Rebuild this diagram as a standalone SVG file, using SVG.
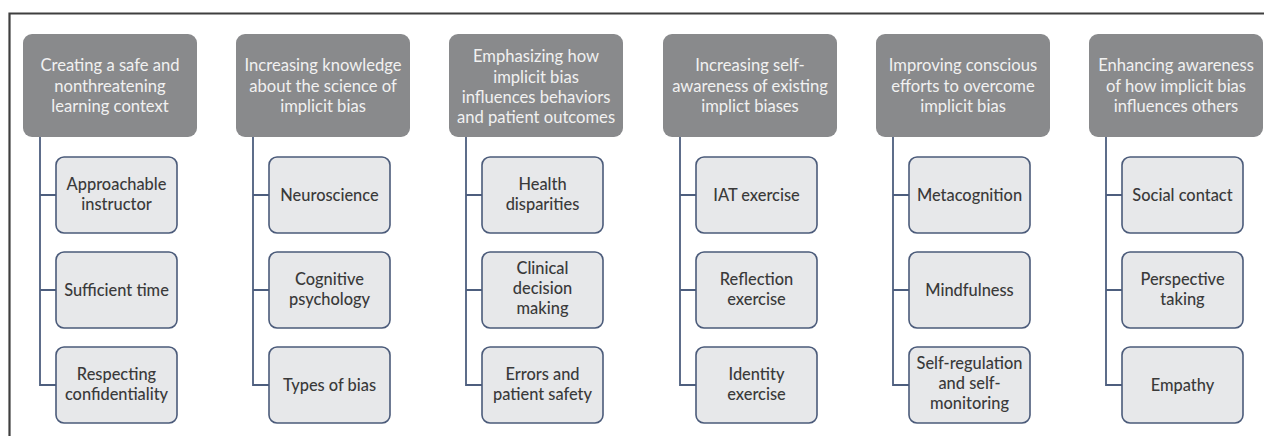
<svg xmlns="http://www.w3.org/2000/svg" width="1264" height="436" viewBox="0 0 1264 436">
  <style>
    .frame { fill: none; stroke: #3f3f3f; stroke-width: 2.2; }
    .head rect { fill: #898a8c; }
    .head text { fill: #f1f1f1; font-family: Lato, "Open Sans", sans-serif; font-size: 16.6px; text-anchor: middle; }
    .item rect { fill: #e7e8ea; stroke: #4b5b7a; stroke-width: 1.6; }
    .item text { fill: #3a3a3a; font-family: Lato, "Open Sans", sans-serif; font-size: 16.4px; font-weight: 500; text-anchor: middle; }
    .links path { fill: none; stroke: #4d5e7e; stroke-width: 1.8; }
  </style>
  <rect width="1264" height="436" fill="#fff"/>
  <path class="frame" d="M9.5 436 V13.5 H1264"/>

  <!-- connectors: vertical spine from each header, with a tick into every item -->
  <g class="links">
    <path d="M40 137 V385 H56 M40 195 H56 M40 290 H56"/>
    <path d="M253 137 V385 H269 M253 195 H269 M253 290 H269"/>
    <path d="M466 137 V385 H482 M466 195 H482 M466 290 H482"/>
    <path d="M680 137 V385 H696 M680 195 H696 M680 290 H696"/>
    <path d="M893 137 V385 H909 M893 195 H909 M893 290 H909"/>
    <path d="M1106 137 V385 H1122 M1106 195 H1122 M1106 290 H1122"/>
  </g>

  <!-- column 1 -->
  <g id="h1" class="head"><rect x="23" y="34" width="174" height="103" rx="9"/>
    <text x="110" y="71">Creating a safe and</text><text x="110" y="91.5">nonthreatening</text><text x="110" y="112">learning context</text></g>
  <g id="c1a" class="item"><rect x="56" y="157" width="121" height="76" rx="8"/>
    <text x="116.5" y="190">Approachable</text><text x="116.5" y="210">instructor</text></g>
  <g id="c1b" class="item"><rect x="56" y="252" width="121" height="76" rx="8"/>
    <text x="116.5" y="295.5">Sufficient time</text></g>
  <g id="c1c" class="item"><rect x="56" y="347" width="121" height="76" rx="8"/>
    <text x="116.5" y="380">Respecting</text><text x="116.5" y="400">confidentiality</text></g>

  <!-- column 2 -->
  <g id="h2" class="head"><rect x="236" y="34" width="174" height="103" rx="9"/>
    <text x="323" y="71">Increasing knowledge</text><text x="323" y="91.5">about the science of</text><text x="323" y="112">implicit bias</text></g>
  <g id="c2a" class="item"><rect x="269" y="157" width="121" height="76" rx="8"/>
    <text x="329.5" y="200.5">Neuroscience</text></g>
  <g id="c2b" class="item"><rect x="269" y="252" width="121" height="76" rx="8"/>
    <text x="329.5" y="285">Cognitive</text><text x="329.5" y="305">psychology</text></g>
  <g id="c2c" class="item"><rect x="269" y="347" width="121" height="76" rx="8"/>
    <text x="329.5" y="390.5">Types of bias</text></g>

  <!-- column 3 -->
  <g id="h3" class="head"><rect x="449" y="34" width="174" height="103" rx="9"/>
    <text x="536" y="62">Emphasizing how</text><text x="536" y="82.5">implicit bias</text><text x="536" y="102.5">influences behaviors</text><text x="536" y="122.5">and patient outcomes</text></g>
  <g id="c3a" class="item"><rect x="482" y="157" width="121" height="76" rx="8"/>
    <text x="542.5" y="190">Health</text><text x="542.5" y="210">disparities</text></g>
  <g id="c3b" class="item"><rect x="482" y="252" width="121" height="76" rx="8"/>
    <text x="542.5" y="274">Clinical</text><text x="542.5" y="294">decision</text><text x="542.5" y="314">making</text></g>
  <g id="c3c" class="item"><rect x="482" y="347" width="121" height="76" rx="8"/>
    <text x="542.5" y="380">Errors and</text><text x="542.5" y="400">patient safety</text></g>

  <!-- column 4 -->
  <g id="h4" class="head"><rect x="663" y="34" width="174" height="103" rx="9"/>
    <text x="750" y="71">Increasing self-</text><text x="750" y="91.5">awareness of existing</text><text x="750" y="112">implict biases</text></g>
  <g id="c4a" class="item"><rect x="696" y="157" width="121" height="76" rx="8"/>
    <text x="756.5" y="200.5">IAT exercise</text></g>
  <g id="c4b" class="item"><rect x="696" y="252" width="121" height="76" rx="8"/>
    <text x="756.5" y="285">Reflection</text><text x="756.5" y="305">exercise</text></g>
  <g id="c4c" class="item"><rect x="696" y="347" width="121" height="76" rx="8"/>
    <text x="756.5" y="380">Identity</text><text x="756.5" y="400">exercise</text></g>

  <!-- column 5 -->
  <g id="h5" class="head"><rect x="876" y="34" width="174" height="103" rx="9"/>
    <text x="963" y="71">Improving conscious</text><text x="963" y="91.5">efforts to overcome</text><text x="963" y="112">implicit bias</text></g>
  <g id="c5a" class="item"><rect x="909" y="157" width="121" height="76" rx="8"/>
    <text x="969.5" y="200.5">Metacognition</text></g>
  <g id="c5b" class="item"><rect x="909" y="252" width="121" height="76" rx="8"/>
    <text x="969.5" y="295.5">Mindfulness</text></g>
  <g id="c5c" class="item"><rect x="909" y="347" width="121" height="76" rx="8"/>
    <text x="969.5" y="369">Self-regulation</text><text x="969.5" y="389">and self-</text><text x="969.5" y="409">monitoring</text></g>

  <!-- column 6 -->
  <g id="h6" class="head"><rect x="1089" y="34" width="174" height="103" rx="9"/>
    <text x="1176" y="71">Enhancing awareness</text><text x="1176" y="91.5">of how implicit bias</text><text x="1176" y="112">influences others</text></g>
  <g id="c6a" class="item"><rect x="1122" y="157" width="121" height="76" rx="8"/>
    <text x="1182.5" y="200.5">Social contact</text></g>
  <g id="c6b" class="item"><rect x="1122" y="252" width="121" height="76" rx="8"/>
    <text x="1182.5" y="285">Perspective</text><text x="1182.5" y="305">taking</text></g>
  <g id="c6c" class="item"><rect x="1122" y="347" width="121" height="76" rx="8"/>
    <text x="1182.5" y="390.5">Empathy</text></g>
</svg>
